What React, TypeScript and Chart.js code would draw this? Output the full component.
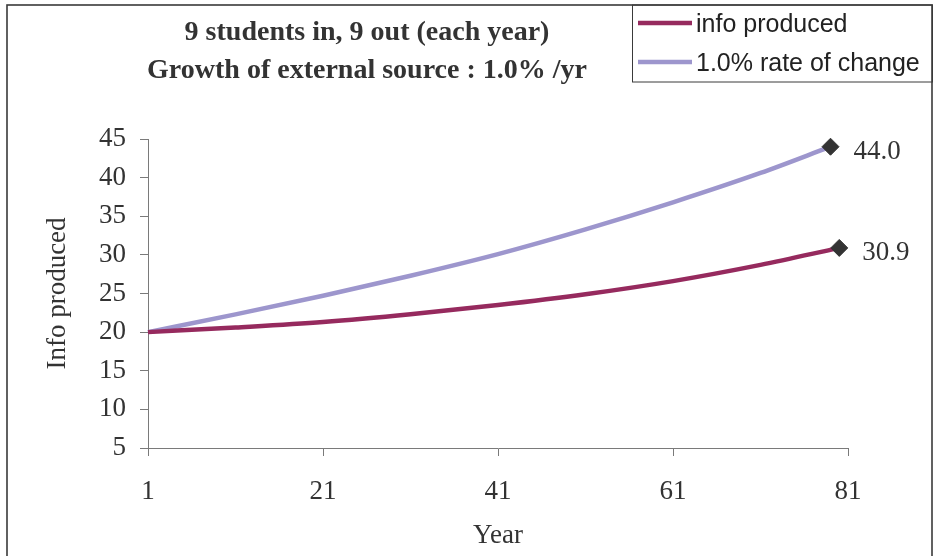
import React, { useEffect, useRef } from "react";
import { Chart, registerables } from "chart.js";

Chart.register(...registerables);

// Year on the x axis for each series
const infoYears = [1, 11, 21, 31, 41, 51, 61, 71, 80];
const rateYears = [1, 11, 21, 31, 41, 51, 61, 71, 79];

// Series values
const infoProduced = [20.0, 20.6, 21.3, 22.3, 23.5, 24.9, 26.6, 28.7, 30.9];
const rateOfChange = [20.0, 22.3, 24.7, 27.3, 30.1, 33.3, 36.8, 40.6, 44.0];

// Axis ticks
const xTicks = [1, 21, 41, 61, 81];

const titleLines = ["9 students in, 9 out (each year)", "Growth of external source : 1.0% /yr"];
const seriesLabels = ["info produced", "1.0% rate of change"];
const seriesColors = ["#962a5e", "#9d96cd"];

const SERIF = '"Liberation Serif", "Times New Roman", serif';
const SANS = '"Liberation Sans", Arial, sans-serif';
const TEXT = "#333333";
const AXIS = "#7a7a7a";

const decorPlugin = {
  id: "decor",
  afterDraw(chart: any) {
    const ctx = chart.ctx as CanvasRenderingContext2D;
    ctx.save();

    // outer frame
    ctx.strokeStyle = "#3a3a3a";
    ctx.lineWidth = 1.6;
    ctx.strokeRect(7, 5, 925, 560);

    // title
    ctx.fillStyle = TEXT;
    ctx.font = `bold 28px ${SERIF}`;
    ctx.textAlign = "center";
    ctx.textBaseline = "middle";
    ctx.fillText(titleLines[0], 367, 33);
    ctx.fillText(titleLines[1], 367, 71);

    // legend box
    ctx.lineWidth = 1;
    ctx.strokeStyle = "#3a3a3a";
    ctx.strokeRect(632.5, 5, 300, 77);
    const rows = [23, 62];
    chart.data.datasets.forEach((ds: any, i: number) => {
      ctx.strokeStyle = ds.borderColor;
      ctx.lineWidth = 4.5;
      ctx.beginPath();
      ctx.moveTo(638, rows[i]);
      ctx.lineTo(692, rows[i]);
      ctx.stroke();
      ctx.fillStyle = "#222222";
      ctx.font = `25px ${SANS}`;
      ctx.textAlign = "left";
      ctx.textBaseline = "middle";
      ctx.fillText(ds.label, 696, rows[i] + 2);
    });

    // end-point value labels
    ctx.fillStyle = TEXT;
    ctx.font = `27px ${SERIF}`;
    ctx.textAlign = "left";
    ctx.textBaseline = "middle";
    chart.data.datasets.forEach((ds: any, i: number) => {
      const meta = chart.getDatasetMeta(i);
      const last = meta.data[meta.data.length - 1];
      const v = ds.data[ds.data.length - 1].y;
      ctx.fillText(v.toFixed(1), last.x + 23, last.y + 5);
    });

    ctx.restore();
  },
};

export default function App() {
  const canvasRef = useRef<HTMLCanvasElement | null>(null);

  useEffect(() => {
    if (!canvasRef.current) return;
    const endMarker = (n: number) => (c: any) => (c.dataIndex === n - 1 ? 8.5 : 0);
    const chart = new Chart(canvasRef.current, {
      type: "line",
      data: {
        datasets: [
          {
            label: seriesLabels[0],
            data: infoYears.map((x, i) => ({ x, y: infoProduced[i] })),
            borderColor: seriesColors[0],
            borderWidth: 4.5,
            cubicInterpolationMode: "monotone",
            pointStyle: "rectRot",
            pointRadius: endMarker(infoYears.length),
            pointBackgroundColor: "#333333",
            pointBorderColor: "#333333",
            pointBorderWidth: 1,
            clip: false,
          },
          {
            label: seriesLabels[1],
            data: rateYears.map((x, i) => ({ x, y: rateOfChange[i] })),
            borderColor: seriesColors[1],
            borderWidth: 4.5,
            cubicInterpolationMode: "monotone",
            pointStyle: "rectRot",
            pointRadius: endMarker(rateYears.length),
            pointBackgroundColor: "#333333",
            pointBorderColor: "#333333",
            pointBorderWidth: 1,
            clip: false,
          },
        ],
      },
      options: {
        animation: false,
        responsive: false,
        devicePixelRatio: 1,
        layout: { padding: { left: 0, top: 139, right: 88, bottom: 0 } },
        plugins: {
          legend: { display: false },
          title: { display: false },
          tooltip: { enabled: false },
        },
        scales: {
          x: {
            type: "linear",
            min: 1,
            max: 81,
            afterFit: (s: any) => {
              s.height = 108;
            },
            afterBuildTicks: (s: any) => {
              s.ticks = xTicks.map((value) => ({ value }));
            },
            grid: { display: true, drawOnChartArea: false, drawTicks: true, tickLength: 8, color: AXIS },
            border: { display: true, color: AXIS, width: 1 },
            ticks: {
              font: { family: SERIF, size: 27 },
              color: TEXT,
              padding: 20,
              maxRotation: 0,
              autoSkip: false,
            },
            title: {
              display: true,
              text: "Year",
              font: { family: SERIF, size: 27 },
              color: TEXT,
              padding: { top: 0, bottom: 4 },
            },
          },
          y: {
            min: 5,
            max: 45,
            afterFit: (s: any) => {
              s.width = 148;
            },
            grid: { display: true, drawOnChartArea: false, drawTicks: true, tickLength: 8, color: AXIS },
            border: { display: true, color: AXIS, width: 1 },
            ticks: {
              stepSize: 5,
              font: { family: SERIF, size: 27 },
              color: TEXT,
              padding: 14,
            },
            title: {
              display: true,
              text: "Info produced",
              font: { family: SERIF, size: 27 },
              color: TEXT,
              padding: { top: 42, bottom: 0 },
            },
          },
        },
      },
      plugins: [decorPlugin],
    } as any);
    return () => chart.destroy();
  }, []);

  return (
    <div style={{ position: "fixed", left: 0, top: 0, width: 936, height: 556, background: "#ffffff" }}>
      <canvas ref={canvasRef} width={936} height={556} style={{ display: "block" }} />
    </div>
  );
}
